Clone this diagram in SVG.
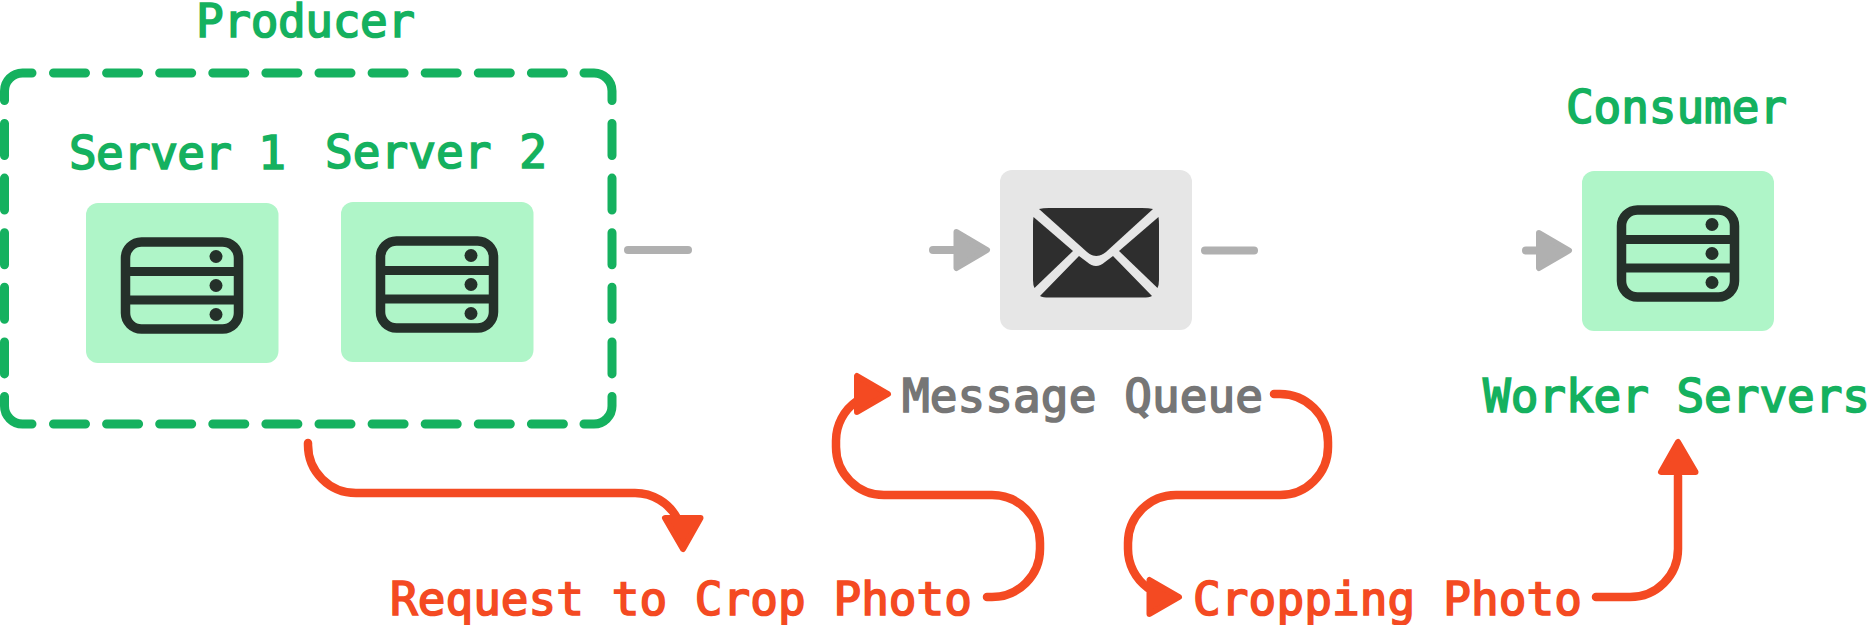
<svg xmlns="http://www.w3.org/2000/svg" xmlns:xlink="http://www.w3.org/1999/xlink" width="1871" height="625" viewBox="0 0 1871 625">
<style>
text{font-family:"DejaVu Sans Mono","Liberation Mono",monospace;font-size:46px;font-weight:400;stroke-width:1.7px}
.g{fill:#15b15f;stroke:#15b15f}
.o{fill:#f44a22;stroke:#f44a22}
.k{fill:#767676;stroke:#767676}
.box{fill:#aff5c8}
.dash{fill:none;stroke:#15b15f;stroke-width:9;stroke-linecap:round;stroke-linejoin:round}
.wire{fill:none;stroke:#f44a22;stroke-width:8.500;stroke-linecap:round}
.head{fill:#f44a22;stroke:#f44a22;stroke-width:6;stroke-linejoin:round}
.gw{fill:none;stroke:#b0b0b0;stroke-width:8;stroke-linecap:round}
.gh{fill:#b0b0b0;stroke:#b0b0b0;stroke-width:6;stroke-linejoin:round}
</style>
<defs>
<g id="srv">
<rect x="39.500" y="39" width="113" height="87" rx="16" fill="none" stroke="#25302a" stroke-width="9.500"/>
<path d="M39.500 68.500H152.500M39.500 97H152.500" fill="none" stroke="#25302a" stroke-width="9"/>
<circle cx="130" cy="53.500" r="6.500" fill="#25302a"/><circle cx="130" cy="82.500" r="6.500" fill="#25302a"/><circle cx="130" cy="111.500" r="6.500" fill="#25302a"/>
</g>
</defs>
<g id="producer">
<path class="dash" d="M53.500 73H581" stroke-dasharray="32 21.100"/>
<path class="dash" d="M53.500 424H581" stroke-dasharray="32 21.100"/>
<path class="dash" d="M4.500 123.500V381" stroke-dasharray="32 22.600"/>
<path class="dash" d="M612 123.500V381" stroke-dasharray="32 22.600"/>
<path class="dash" d="M4.500 100.500V91A18 18 0 0 1 22.500 73H32"/>
<path class="dash" d="M584 73H594A18 18 0 0 1 612 91V100.500"/>
<path class="dash" d="M4.500 396.500V406A18 18 0 0 0 22.500 424H32"/>
<path class="dash" d="M612 396.500V406A18 18 0 0 1 594 424H584"/>
<text class="g" x="196" y="37" textLength="219">Producer</text>
</g>
<g id="server1">
<rect class="box" x="86" y="203" width="192.500" height="160" rx="12"/>
<use xlink:href="#srv" href="#srv" x="86" y="203"/>
<text class="g" x="69" y="169" textLength="217">Server 1</text>
</g>
<g id="server2">
<rect class="box" x="341" y="202" width="192.500" height="160" rx="12"/>
<use xlink:href="#srv" href="#srv" x="341" y="202"/>
<text class="g" x="325" y="168" textLength="222">Server 2</text>
</g>
<g id="queue">
<rect x="1000" y="170" width="192" height="160" rx="12" fill="#e6e6e6"/>
<g fill="#2e2e2e">
<path d="M1039 209Q1043 208 1049 208H1142Q1149 208 1153 209L1106 252Q1096 260 1087 252Z"/>
<path d="M1033.500 217L1073 251L1034.500 288Q1033 285 1033 280V225Q1033 220 1033.500 217Z"/>
<path d="M1158.500 217L1119 251L1157.500 288Q1159 285 1159 280V225Q1159 220 1158.500 217Z"/>
<path d="M1040 296L1079 256L1087 262Q1096 270 1105 262L1113 256L1152 296Q1149 297.500 1143 297.500H1049Q1043 297.500 1040 296Z"/>
</g>
<text class="k" x="902" y="412" textLength="361">Message Queue</text>
</g>
<g id="consumer">
<rect class="box" x="1582" y="171" width="192" height="160" rx="12"/>
<use xlink:href="#srv" href="#srv" x="1582" y="171"/>
<text class="g" x="1566" y="123" textLength="221">Consumer</text>
<text class="g" x="1483" y="412" textLength="387">Worker Servers</text>
</g>
<g id="request"><text class="o" x="390" y="615" textLength="582">Request to Crop Photo</text></g>
<g id="cropping"><text class="o" x="1193" y="615" textLength="389">Cropping Photo</text></g>
<g id="connectors">
<path class="gw" d="M628 250H688"/>
<path class="gw" d="M933 250H955"/><path class="gh" d="M956.500 232L987 250L956.500 268Z"/>
<path class="gw" d="M1205 250.500H1254"/>
<path class="gw" d="M1526 250.500H1538"/><path class="gh" d="M1539 233L1569 250.500L1539 268Z"/>
<path class="wire" d="M308 443V445A48 48 0 0 0 356 493H635A48 48 0 0 1 677 518"/>
<path class="head" d="M665 518H700.500L683 549Z"/>
<path class="wire" d="M987 597H992A48 48 0 0 0 1040 549V543A48 48 0 0 0 992 495H884A48 48 0 0 1 836 447V441A48 48 0 0 1 857 401"/>
<path class="head" d="M857 376V412L888 394Z"/>
<path class="wire" d="M1274 394H1280A48 48 0 0 1 1328 442V447A48 48 0 0 1 1280 495H1176A48 48 0 0 0 1128 543V549A48 48 0 0 0 1148 588"/>
<path class="head" d="M1149.500 580V614L1179 597Z"/>
<path class="wire" d="M1596 597H1630A48 48 0 0 0 1678 549V476"/>
<path class="head" d="M1661 472H1695.500L1678 442Z"/>
</g>
</svg>
